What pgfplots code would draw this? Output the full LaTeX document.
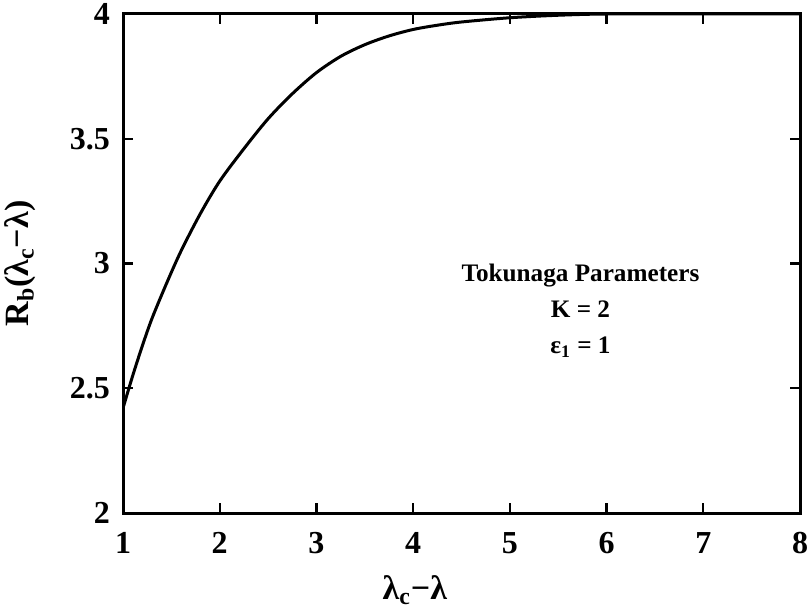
\documentclass[border=0pt]{standalone}
\usepackage{fontspec}
\setmainfont{Liberation Serif}
\usepackage{pgfplots}
\pgfplotsset{compat=1.18}

\begin{document}
\begin{tikzpicture}
\begin{axis}[
    scale only axis,
    width=338.5pt,
    height=249.5pt,
    xmin=1, xmax=8,
    ymin=2, ymax=4,
    xtick={1,2,3,4,5,6,7,8},
    xticklabels={1,2,3,4,5,6,7,8},
    ytick={2,2.5,3,3.5,4},
    yticklabels={2,2.5,3,3.5,4},
    tick align=inside,
    major tick length=5pt,
    axis line style={line width=1.5pt},
    major tick style={draw=black, line width=1.2pt},
    ticklabel style={font=\fontsize{16}{18}\selectfont\bfseries},
    xticklabel style={yshift=-6pt},
    yticklabel style={xshift=-3pt},
    xlabel={λ\textsubscript{c}−λ},
    ylabel={R\textsubscript{b}(λ\textsubscript{c}−λ)},
    label style={font=\fontsize{17}{19}\selectfont\bfseries},
    xlabel style={at={(axis description cs:0.431,-0.154)}, anchor=center},
    ylabel style={at={(axis description cs:-0.152,0.5)}, anchor=center},
]
\addplot[black, line width=1.5pt, smooth] coordinates {
    (1,2.42)(1.1,2.55)(1.2,2.67)(1.3,2.78)(1.45,2.92)(1.6,3.05)
    (1.8,3.20)(2,3.33)(2.25,3.46)(2.5,3.58)(2.75,3.68)(3,3.765)
    (3.25,3.83)(3.5,3.877)(3.75,3.912)(4,3.938)(4.25,3.955)(4.5,3.968)
    (5,3.985)(5.5,3.995)(6,4)(7,4)(8,4)
};
\node[align=center, font=\fontsize{12.6}{18}\selectfont\bfseries]
    at (axis cs:5.73,2.81) {Tokunaga Parameters\\K = 2\\ε\textsubscript{1} = 1};
\end{axis}
\pgfresetboundingbox
\path[use as bounding box] (current axis.south west) ++(-61.5pt,-49pt)
    rectangle ([shift={(5pt,7pt)}]current axis.north east);
\end{tikzpicture}
\end{document}
